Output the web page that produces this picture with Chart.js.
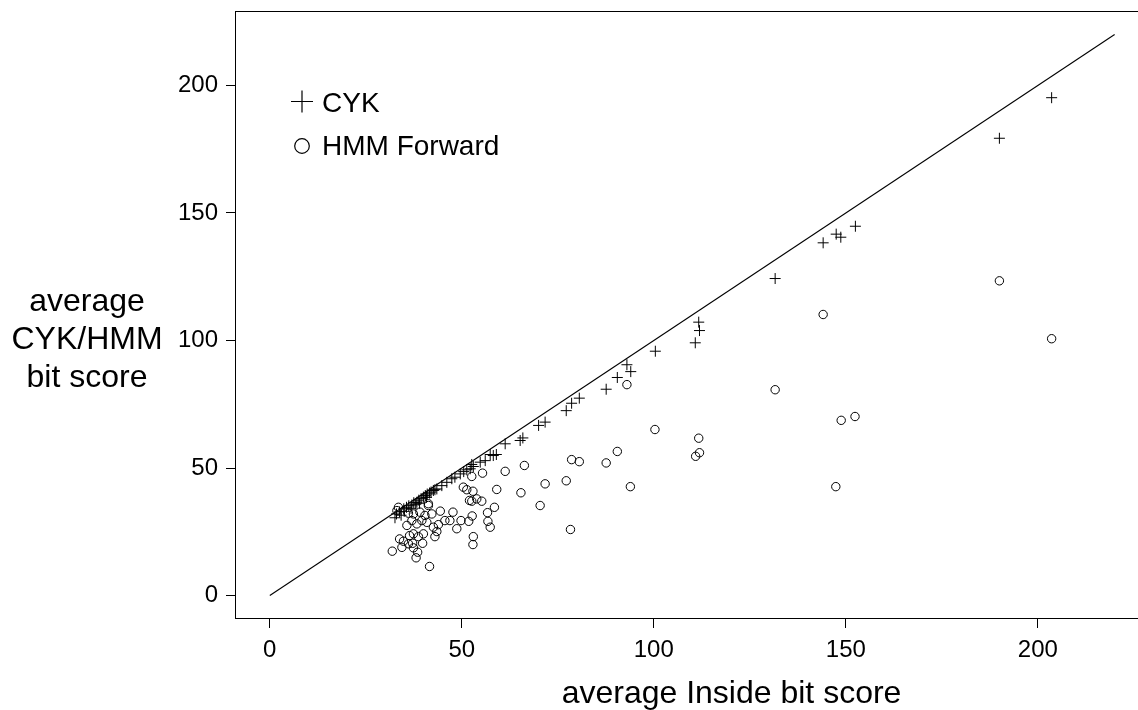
<!DOCTYPE html>
<html>
<head>
<meta charset="utf-8">
<script src="https://cdn.jsdelivr.net/npm/chart.js@4"></script>
<style>
  html, body { margin: 0; padding: 0; background: #fff; overflow: hidden; }
  #wrap { width: 1240px; height: 710px; }
</style>
</head>
<body>
<div id="wrap"><canvas id="scoreChart" width="1240" height="710"></canvas></div>
<script>
// ─── DATOS ─────────────────────────────────────────────────────
const xTicks = [0, 50, 100, 150, 200];
const yTicks = [0, 50, 100, 150, 200];

const diagX = [0, 220];
const diagY = [0, 220];

// CYK (+)
const cykX = [32.6, 33.0, 33.8, 34.2, 34.9, 35.0, 35.6, 36.2, 36.8, 37.0, 37.5, 38.0, 38.3, 38.8, 39.0, 39.4,
    40.0, 40.5, 40.8, 41.0, 41.6, 42.0, 42.6, 43.0, 43.5, 44.8, 46.1, 47.4, 48.2, 49.6, 50.5, 51.3,
    52.2, 53.0, 52.6, 54.8, 56.1, 57.4, 58.2, 59.0, 61.3, 65.2, 65.9, 70.0, 71.7, 77.2, 78.6, 80.6,
    87.6, 90.5, 93.0, 94.0, 100.4, 110.8, 111.7, 111.9, 131.6, 144.1, 147.5, 148.7, 152.5, 190.0, 203.6];
const cykY = [30.5, 32.0, 32.8, 31.5, 34.0, 33.0, 34.6, 35.2, 34.2, 35.5, 36.4, 35.8, 36.6, 37.4, 36.2, 38.0,
    38.6, 39.2, 38.5, 39.8, 40.2, 40.6, 41.2, 41.5, 41.8, 43.1, 44.4, 45.8, 46.4, 47.7, 48.6, 49.3,
    49.7, 50.6, 51.4, 52.3, 52.9, 55.3, 54.9, 55.3, 59.5, 60.8, 61.8, 66.7, 68.0, 72.5, 75.4, 77.4,
    80.9, 85.5, 90.5, 87.8, 95.8, 99.1, 107.2, 103.9, 124.3, 138.3, 141.7, 140.5, 144.8, 179.3, 195.2];

// HMM Forward (o)
const hmmX = [203.6, 190.0, 144.1, 131.6, 148.8, 152.4, 147.4, 111.7, 111.9, 110.9, 100.3, 93.0, 93.9, 90.5,
    87.6, 80.6, 78.6, 77.2, 78.3, 71.7, 70.4, 66.3, 65.4, 61.3, 59.1, 58.5, 57.4, 56.8, 56.7, 55.4,
    55.2, 53.9, 52.6, 52.9, 52.6, 51.3, 50.4, 52.7, 51.8, 53.0, 52.9, 52.0, 49.8, 48.7, 47.7, 46.9,
    45.6, 44.4, 43.9, 43.5, 43.0, 42.6, 42.2, 41.3, 41.3, 40.9, 41.6, 40.4, 40.0, 39.8, 39.6, 39.1,
    38.7, 38.5, 38.3, 38.1, 37.4, 37.4, 37.4, 37.2, 37.0, 36.4, 36.1, 36.1, 35.7, 34.8, 34.4, 33.8,
    33.5, 33.1, 31.9];
const hmmY = [100.7, 123.4, 110.2, 80.7, 68.7, 70.2, 42.7, 61.7, 56.0, 54.6, 65.1, 82.7, 42.7, 56.5,
    52.0, 52.5, 53.3, 45.0, 25.9, 43.8, 35.3, 51.0, 40.3, 48.7, 41.6, 34.6, 26.8, 29.1, 32.5, 48.0,
    37.0, 37.9, 37.0, 40.9, 46.7, 41.5, 42.5, 31.2, 29.1, 23.1, 20.0, 37.3, 29.4, 26.2, 32.7, 29.4,
    29.4, 33.1, 27.8, 25.1, 23.1, 26.8, 32.0, 35.3, 36.0, 28.7, 11.4, 31.4, 24.2, 20.5, 29.4, 32.7,
    23.1, 17.0, 28.1, 14.8, 32.0, 24.2, 18.7, 20.5, 29.4, 23.5, 32.3, 20.3, 27.5, 21.3, 18.9, 22.2,
    34.6, 33.3, 17.4];

const xTitle = 'average Inside bit score';
const yTitleLines = ['average', 'CYK/HMM', 'bit score'];
const legendLabels = ['CYK', 'HMM Forward'];

const toPoints = (xs, ys) => xs.map((x, i) => ({ x: x, y: ys[i] }));

// ─── PLUGIN: marco, título Y y leyenda ─────────────────────────
const frameAndLegend = {
    id: 'frameAndLegend',
    afterDraw(chart) {
        const { ctx, chartArea: a } = chart;
        ctx.save();
        ctx.strokeStyle = '#000';
        ctx.lineWidth = 1;
        ctx.strokeRect(Math.round(a.left) - 0.5, Math.round(a.top) - 0.5,
            Math.round(a.right - a.left) + 1, Math.round(a.bottom - a.top) + 1);

        ctx.fillStyle = '#000';
        ctx.font = '32px "Liberation Sans"';
        ctx.textAlign = 'center';
        ctx.textBaseline = 'alphabetic';
        yTitleLines.forEach((t, i) => ctx.fillText(t, 87, 311 + i * 38));

        // leyenda
        ctx.lineWidth = 1.2;
        ctx.beginPath();
        ctx.moveTo(291, 101.5); ctx.lineTo(313, 101.5);
        ctx.moveTo(302, 90.5); ctx.lineTo(302, 112.5);
        ctx.stroke();
        ctx.beginPath();
        ctx.arc(302, 146, 7.3, 0, Math.PI * 2);
        ctx.stroke();

        ctx.font = '28px "Liberation Sans"';
        ctx.textAlign = 'left';
        ctx.fillText(legendLabels[0], 322, 112);
        ctx.fillText(legendLabels[1], 322, 155);
        ctx.restore();
    }
};

Chart.defaults.font.family = '"Liberation Sans", Arial, sans-serif';
Chart.defaults.color = '#000';

new Chart(document.getElementById('scoreChart'), {
    type: 'scatter',
    data: {
        datasets: [
            {
                type: 'line',
                data: toPoints(diagX, diagY),
                borderColor: '#000',
                borderWidth: 1.1,
                pointRadius: 0,
                fill: false
            },
            {
                label: legendLabels[0],
                data: toPoints(cykX, cykY),
                pointStyle: 'cross',
                pointRadius: 5.5,
                borderColor: '#000',
                backgroundColor: 'transparent',
                pointBorderWidth: 1
            },
            {
                label: legendLabels[1],
                data: toPoints(hmmX, hmmY),
                pointStyle: 'circle',
                pointRadius: 4.2,
                borderColor: '#000',
                backgroundColor: 'transparent',
                pointBorderWidth: 1
            }
        ]
    },
    options: {
        responsive: false,
        animation: false,
        layout: { padding: { top: 12, right: 13, left: 0, bottom: 0 } },
        plugins: { legend: { display: false }, tooltip: { enabled: false } },
        scales: {
            x: {
                type: 'linear',
                min: -8.8,
                max: 249.27,
                afterFit: s => { s.height = 92; s.paddingLeft = 0; s.paddingRight = 0; },
                afterBuildTicks: s => { s.ticks = xTicks.map(v => ({ value: v })); },
                border: { display: false },
                grid: { drawOnChartArea: false, drawTicks: true, tickLength: 10, color: '#000' },
                ticks: { font: { size: 24 }, padding: 8, maxRotation: 0, autoSkip: false },
                title: {
                    display: true,
                    text: xTitle,
                    font: { size: 32, lineHeight: 1 },
                    padding: 0
                }
            },
            y: {
                type: 'linear',
                min: -8.8,
                max: 228.8,
                afterFit: s => { s.width = 236; s.paddingTop = 0; s.paddingBottom = 0; },
                afterBuildTicks: s => { s.ticks = yTicks.map(v => ({ value: v })); },
                border: { display: false },
                grid: { drawOnChartArea: false, drawTicks: true, tickLength: 10, color: '#000' },
                ticks: { font: { size: 24 }, padding: 8, autoSkip: false }
            }
        }
    },
    plugins: [frameAndLegend]
});
</script>
</body>
</html>
